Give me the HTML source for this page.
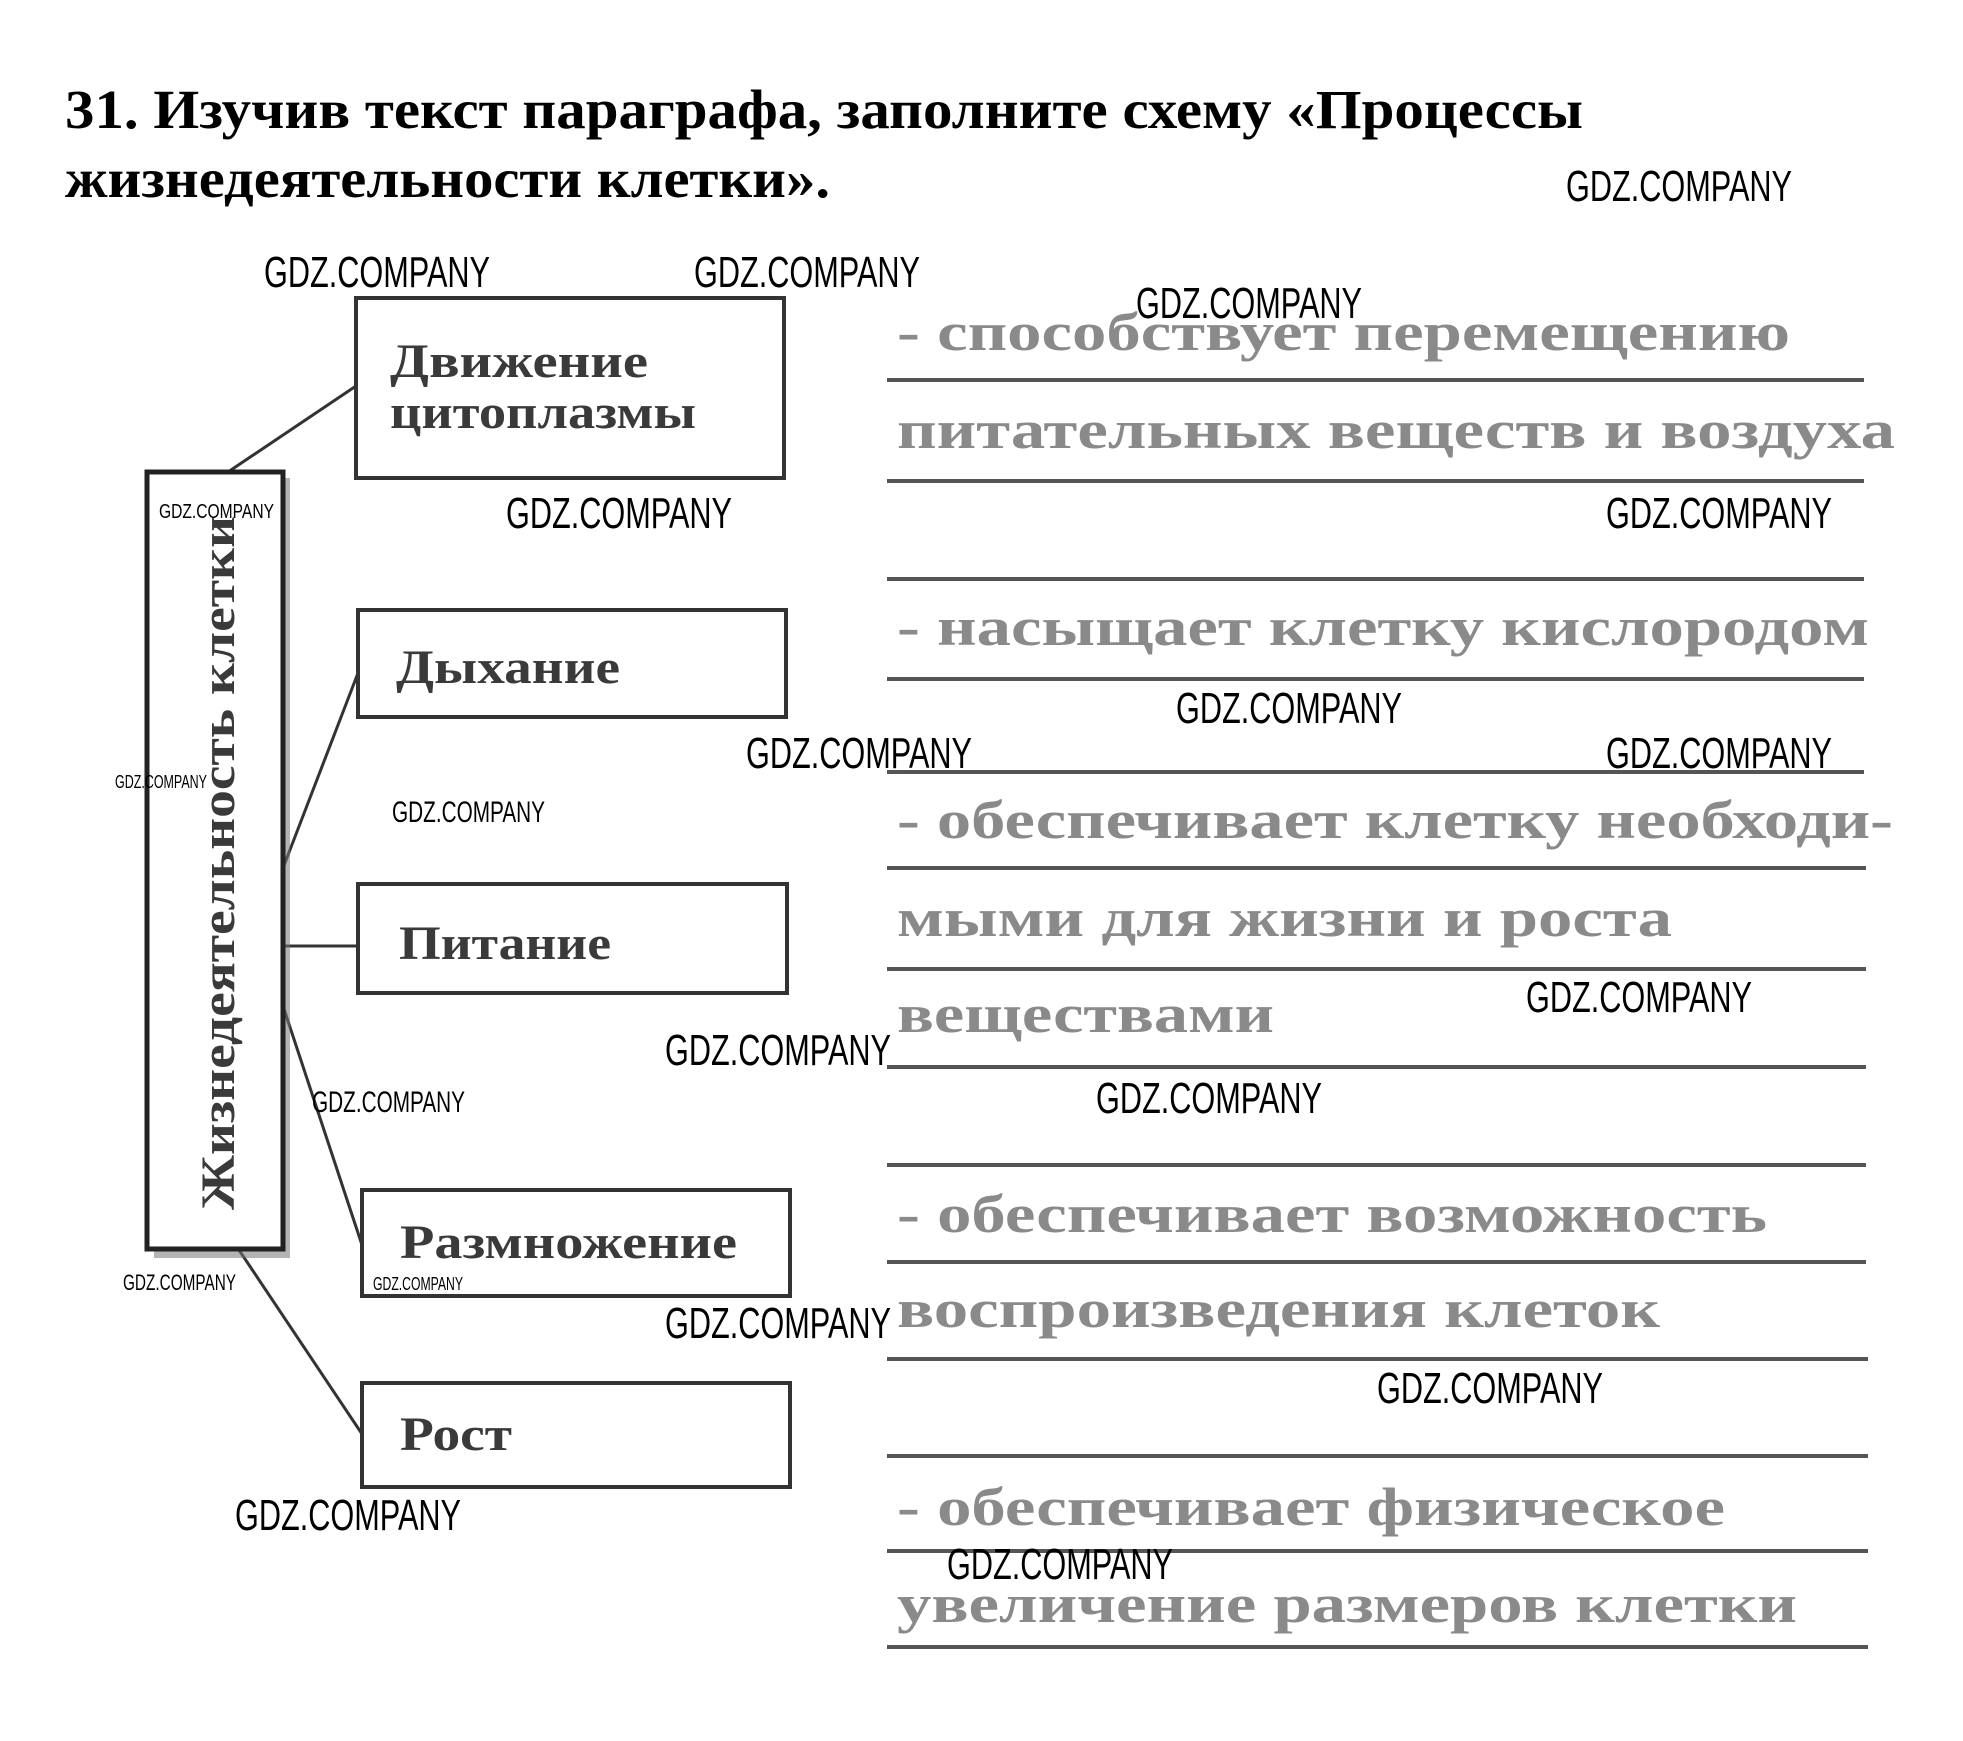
<!DOCTYPE html>
<html><head><meta charset="utf-8"><style>
html,body{margin:0;padding:0;background:#fff;}
svg{display:block;}
.t{font-family:"Liberation Serif","Noto Serif CJK SC",serif;font-weight:bold;}
.w{font-family:"Liberation Sans",sans-serif;font-size:44px;fill:#000;}
.g{font-family:"Liberation Serif",serif;font-weight:bold;font-size:54px;fill:#8a8a8a;}
.b{font-family:"Liberation Serif",serif;font-weight:bold;font-size:48px;fill:#3a3a3a;}
</style></head><body>
<svg width="1963" height="1741" viewBox="0 0 1963 1741" xmlns="http://www.w3.org/2000/svg">
<text class="t" x="65" y="128" font-size="55" textLength="1518" lengthAdjust="spacingAndGlyphs">31. Изучив текст параграфа, заполните схему «Процессы</text>
<text class="t" x="65" y="197" font-size="55" textLength="765" lengthAdjust="spacingAndGlyphs">жизнедеятельности клетки».</text>

<!-- connectors -->
<g stroke="#333" stroke-width="3" fill="none">
<line x1="228" y1="472" x2="356" y2="386"/>
<line x1="283" y1="868" x2="358" y2="673"/>
<line x1="283" y1="946" x2="358" y2="946"/>
<line x1="283" y1="1006" x2="362" y2="1245"/>
<line x1="239" y1="1250" x2="362" y2="1434"/>
</g>
<!-- vertical box shadow -->
<rect x="154" y="478" width="136" height="780" fill="#777" opacity="0.55"/>
<rect x="147" y="472" width="136" height="777" fill="#fff" stroke="#222" stroke-width="5"/>
<text class="b" font-size="50" fill="#222" transform="translate(234,1210) rotate(-90)" textLength="694" lengthAdjust="spacingAndGlyphs">Жизнедеятельность клетки</text>

<g fill="#fff" stroke="#333" stroke-width="4">
<rect x="356" y="298" width="428" height="180"/>
<rect x="358" y="610" width="428" height="107"/>
<rect x="358" y="884" width="429" height="109"/>
<rect x="362" y="1190" width="428" height="106"/>
<rect x="362" y="1383" width="428" height="104"/>
</g>
<text class="b" x="390" y="377" textLength="258" lengthAdjust="spacingAndGlyphs">Движение</text>
<text class="b" x="390" y="428" textLength="306" lengthAdjust="spacingAndGlyphs">цитоплазмы</text>
<text class="b" x="396" y="683" textLength="224" lengthAdjust="spacingAndGlyphs">Дыхание</text>
<text class="b" x="399" y="959" textLength="212" lengthAdjust="spacingAndGlyphs">Питание</text>
<text class="b" x="400" y="1258" textLength="337" lengthAdjust="spacingAndGlyphs">Размножение</text>
<text class="b" x="400" y="1450" textLength="112" lengthAdjust="spacingAndGlyphs">Рост</text>

<!-- answer lines -->
<g stroke="#555" stroke-width="4">
<line x1="887" y1="380" x2="1864" y2="380"/>
<line x1="887" y1="481" x2="1864" y2="481"/>
<line x1="887" y1="579" x2="1864" y2="579"/>
<line x1="887" y1="679" x2="1864" y2="679"/>
<line x1="887" y1="772" x2="1864" y2="772"/>
<line x1="887" y1="868" x2="1866" y2="868"/>
<line x1="887" y1="969" x2="1866" y2="969"/>
<line x1="887" y1="1067" x2="1866" y2="1067"/>
<line x1="887" y1="1165" x2="1866" y2="1165"/>
<line x1="887" y1="1262" x2="1866" y2="1262"/>
<line x1="887" y1="1359" x2="1868" y2="1359"/>
<line x1="887" y1="1456" x2="1868" y2="1456"/>
<line x1="887" y1="1551" x2="1868" y2="1551"/>
<line x1="887" y1="1647" x2="1868" y2="1647"/>
</g>
<text class="g" x="897" y="350" textLength="893" lengthAdjust="spacingAndGlyphs">- способствует перемещению</text>
<text class="g" x="897" y="448" textLength="998" lengthAdjust="spacingAndGlyphs">питательных веществ и воздуха</text>
<text class="g" x="897" y="645" textLength="972" lengthAdjust="spacingAndGlyphs">- насыщает клетку кислородом</text>
<text class="g" x="897" y="838" textLength="996" lengthAdjust="spacingAndGlyphs">- обеспечивает клетку необходи-</text>
<text class="g" x="897" y="936" textLength="775" lengthAdjust="spacingAndGlyphs">мыми для жизни и роста</text>
<text class="g" x="897" y="1032" textLength="377" lengthAdjust="spacingAndGlyphs">веществами</text>
<text class="g" x="897" y="1232" textLength="870" lengthAdjust="spacingAndGlyphs">- обеспечивает возможность</text>
<text class="g" x="897" y="1327" textLength="763" lengthAdjust="spacingAndGlyphs">воспроизведения клеток</text>
<text class="g" x="897" y="1525" textLength="828" lengthAdjust="spacingAndGlyphs">- обеспечивает физическое</text>
<text class="g" x="897" y="1622" textLength="900" lengthAdjust="spacingAndGlyphs">увеличение размеров клетки</text>

<!-- watermarks -->
<g class="w">
<text x="1566" y="201" textLength="226" lengthAdjust="spacingAndGlyphs">GDZ.COMPANY</text>
<text x="264" y="287" textLength="226" lengthAdjust="spacingAndGlyphs">GDZ.COMPANY</text>
<text x="694" y="287" textLength="226" lengthAdjust="spacingAndGlyphs">GDZ.COMPANY</text>
<text x="1136" y="318" textLength="226" lengthAdjust="spacingAndGlyphs">GDZ.COMPANY</text>
<text x="506" y="528" textLength="226" lengthAdjust="spacingAndGlyphs">GDZ.COMPANY</text>
<text x="1606" y="528" textLength="226" lengthAdjust="spacingAndGlyphs">GDZ.COMPANY</text>
<text x="1176" y="723" textLength="226" lengthAdjust="spacingAndGlyphs">GDZ.COMPANY</text>
<text x="746" y="768" textLength="226" lengthAdjust="spacingAndGlyphs">GDZ.COMPANY</text>
<text x="1606" y="768" textLength="226" lengthAdjust="spacingAndGlyphs">GDZ.COMPANY</text>
<text x="392" y="822" font-size="30" textLength="153" lengthAdjust="spacingAndGlyphs">GDZ.COMPANY</text>
<text x="1526" y="1012" textLength="226" lengthAdjust="spacingAndGlyphs">GDZ.COMPANY</text>
<text x="665" y="1065" textLength="226" lengthAdjust="spacingAndGlyphs">GDZ.COMPANY</text>
<text x="1096" y="1113" textLength="226" lengthAdjust="spacingAndGlyphs">GDZ.COMPANY</text>
<text x="312" y="1112" font-size="30" textLength="153" lengthAdjust="spacingAndGlyphs">GDZ.COMPANY</text>
<text x="665" y="1338" textLength="226" lengthAdjust="spacingAndGlyphs">GDZ.COMPANY</text>
<text x="1377" y="1403" textLength="226" lengthAdjust="spacingAndGlyphs">GDZ.COMPANY</text>
<text x="235" y="1530" textLength="226" lengthAdjust="spacingAndGlyphs">GDZ.COMPANY</text>
<text x="947" y="1579" textLength="226" lengthAdjust="spacingAndGlyphs">GDZ.COMPANY</text>
<text x="159" y="518" font-size="20" textLength="115" lengthAdjust="spacingAndGlyphs">GDZ.COMPANY</text>
<text x="115" y="788" font-size="18" textLength="92" lengthAdjust="spacingAndGlyphs">GDZ.COMPANY</text>
<text x="123" y="1290" font-size="22" textLength="113" lengthAdjust="spacingAndGlyphs">GDZ.COMPANY</text>
<text x="373" y="1290" font-size="18" textLength="90" lengthAdjust="spacingAndGlyphs">GDZ.COMPANY</text>
</g>
</svg>
</body></html>
